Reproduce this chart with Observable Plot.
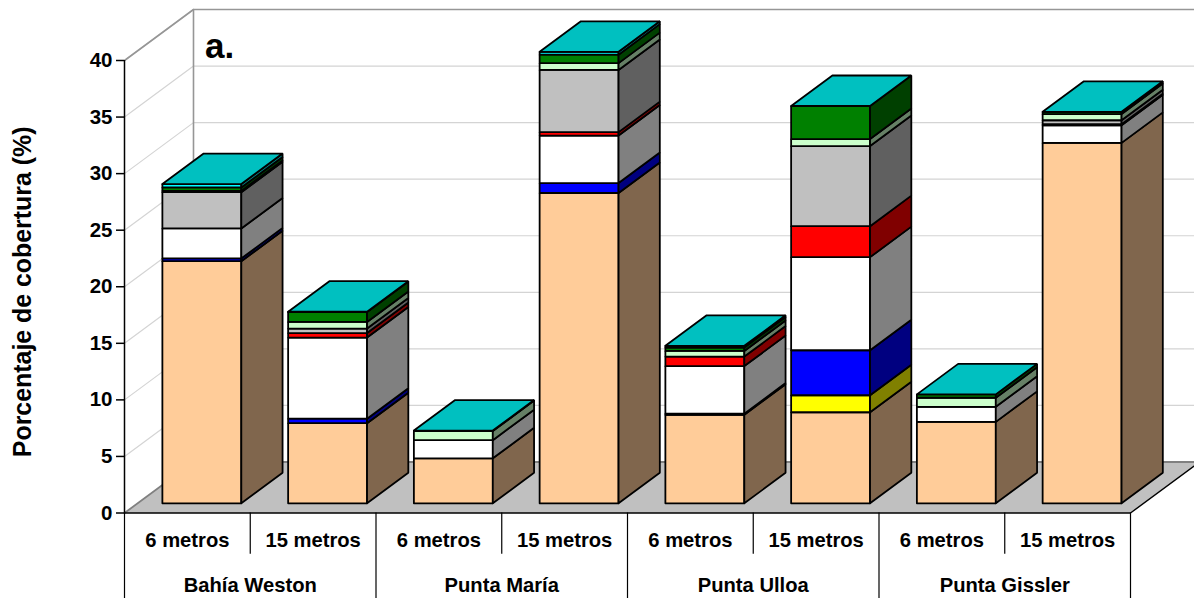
<!DOCTYPE html>
<html lang="es">
<head>
<meta charset="utf-8">
<title>Porcentaje de cobertura</title>
<script src="https://cdn.jsdelivr.net/npm/d3@7"></script>
<script src="https://cdn.jsdelivr.net/npm/@observablehq/plot@0.6"></script>
<style>
  html, body { margin: 0; padding: 0; background: #fff; overflow: hidden; }
  svg { display: block; }
</style>
</head>
<body>
<div id="chart"></div>
<script>
// Stacked cover per site and depth, bottom of the stack first.
const depths = ["6 metros", "15 metros", "6 metros", "15 metros", "6 metros", "15 metros", "6 metros", "15 metros"];
const sites = ["Bahía Weston", "Punta María", "Punta Ulloa", "Punta Gissler"];

const serieMelocoton = [21.4, 7.08, 3.98, 27.43, 7.83, 8.05, 7.2, 31.86];
const serieAmarilla  = [0, 0, 0, 0, 0, 1.5, 0, 0];
const serieAzul      = [0.25, 0.4, 0, 0.88, 0.1, 3.98, 0, 0];
const serieBlanca    = [2.65, 7.17, 1.6, 4.2, 4.2, 8.23, 1.33, 1.55];
const serieRoja      = [0, 0.4, 0, 0.3, 0.84, 2.74, 0, 0.1];
const serieGris      = [3.2, 0.4, 0, 5.5, 0, 7.08, 0, 0.35];
const serieVerdeClara = [0.12, 0.58, 0.8, 0.6, 0.5, 0.62, 0.8, 0.55];
const serieVerde     = [0.3, 0.88, 0.05, 0.75, 0.3, 2.92, 0.3, 0.2];
const serieCian      = [0.3, 0.03, 0, 0.25, 0.15, 0, 0, 0];

const series = [serieMelocoton, serieAmarilla, serieAzul, serieBlanca, serieRoja, serieGris, serieVerdeClara, serieVerde, serieCian];
const frontColors = ["#FFCC99", "#FFFF00", "#0000FF", "#FFFFFF", "#FF0000", "#C0C0C0", "#CCFFCC", "#008000", "#00FFFF"];
const sideColors  = ["#80664D", "#808000", "#000080", "#808080", "#800000", "#606060", "#668066", "#004000", "#008080"];
const topColor = "#00C0C0";

const yTicks = [0, 5, 10, 15, 20, 25, 30, 35, 40];

// Oblique projection of the box: how far one full unit of depth shifts a point, in data units.
const depthX = 69 / 125.75;
const depthY = 51 / 11.31;
const barLeft = 0.197, barWidth = 0.6276;
const barFront = 0.19, barBack = 0.788;
const project = (x, v, d) => ({x: x + d * depthX, y: v + d * depthY});

function polygon(id, color, points) {
  return [...points, points[0]].map((p) => ({id, color, ...p}));
}

// Faces of every bar, painted left to right and bottom to top.
const faces = [];
depths.forEach((_, i) => {
  const x0 = i + barLeft, x1 = x0 + barWidth;
  let base = 0;
  series.forEach((values, s) => {
    const v = values[i];
    if (v <= 0) return;
    const top = base + v;
    faces.push(...polygon(`f${i}-${s}`, frontColors[s], [
      project(x0, base, barFront), project(x1, base, barFront),
      project(x1, top, barFront), project(x0, top, barFront)
    ]));
    faces.push(...polygon(`s${i}-${s}`, sideColors[s], [
      project(x1, base, barFront), project(x1, base, barBack),
      project(x1, top, barBack), project(x1, top, barFront)
    ]));
    base = top;
  });
  faces.push(...polygon(`t${i}`, topColor, [
    project(x0, base, barFront), project(x1, base, barFront),
    project(x1, base, barBack), project(x0, base, barBack)
  ]));
});

// Floor of the box and its edges.
const floor = polygon("floor", "#C0C0C0", [
  project(0, 0, 0), project(8, 0, 0), project(8, 0, 1), project(0, 0, 1)
]);
const gridLines = yTicks.slice(1).flatMap((v) => [
  {v, ...project(0, v, 0)}, {v, ...project(0, v, 1)}, {v, ...project(8, v, 1)}
]);
const wallEdge = [project(0, 40, 0), project(0, 40, 1), project(8, 40, 1)];
const wallPost = [project(0, 0, 1), project(0, 40, 1)];
const floorBack = [project(0, 0, 0), project(0, 0, 1), project(8, 0, 1)];
const floorFront = [project(0, 0, 0), project(8, 0, 0), project(8, 0, 1)];

// Two-level category axis below the floor.
const depthRows = depths.map((label, i) => ({label, x: i + 0.5}));
const siteRows = sites.map((label, i) => ({label, x: 2 * i + 1}));
const depthLabelY = -2.45, siteLabelY = -6.45, shortTick = -3.65, longTick = -7.7;

const text = {fill: "#000", fontWeight: "bold", fontSize: 20.2, lineAnchor: "middle"};

const chart = Plot.plot({
  width: 1194,
  height: 598,
  marginLeft: 124,
  marginRight: 64,
  marginTop: 60,
  marginBottom: 85.5,
  x: {domain: [0, 8], axis: null},
  y: {domain: [0, 40], axis: null},
  style: {fontFamily: "'Liberation Sans', Arial, sans-serif", background: "#fff"},
  marks: [
    Plot.line(gridLines, {x: "x", y: "y", z: "v", stroke: "#D4D4D4", strokeWidth: 1.2}),
    Plot.line(wallEdge, {x: "x", y: "y", stroke: "#969696", strokeWidth: 1.6}),
    Plot.line(wallPost, {x: "x", y: "y", stroke: "#969696", strokeWidth: 1.6}),
    Plot.line(floor, {x: "x", y: "y", z: "id", fill: "#C0C0C0", stroke: "none"}),
    Plot.line(floorBack, {x: "x", y: "y", stroke: "#808080", strokeWidth: 1.8}),
    Plot.line(floorFront, {x: "x", y: "y", stroke: "#000", strokeWidth: 1.4}),
    Plot.line(faces, {
      x: "x", y: "y", z: "id",
      fill: {value: "color", scale: null},
      stroke: "#000", strokeWidth: 1.8, strokeLinejoin: "miter"
    }),
    Plot.ruleX([0], {y1: 0, y2: 40, stroke: "#000", strokeWidth: 1.5}),
    Plot.axisY({
      ticks: yTicks, tickSize: 8, tickPadding: 4, label: null,
      fontSize: 20.5, fontWeight: "bold", strokeWidth: 1.5, stroke: "#000", color: "#000"
    }),
    Plot.ruleX([0, 2, 4, 6, 8], {y1: 0, y2: longTick, stroke: "#000", strokeWidth: 1.2}),
    Plot.ruleX([1, 3, 5, 7], {y1: 0, y2: shortTick, stroke: "#000", strokeWidth: 1.2}),
    Plot.text(depthRows, {x: "x", y: depthLabelY, text: "label", ...text}),
    Plot.text(siteRows, {x: "x", y: siteLabelY, text: "label", ...text}),
    Plot.text(["Porcentaje de cobertura (%)"], {
      x: -0.81, y: 19.55, text: (d) => d, rotate: -90, ...text, fontSize: 24.9
    }),
    Plot.text(["a."], {x: 0.64, y: 41.2, text: (d) => d, ...text, fontSize: 35, textAnchor: "start"})
  ]
});
document.getElementById("chart").append(chart);
</script>
</body>
</html>
